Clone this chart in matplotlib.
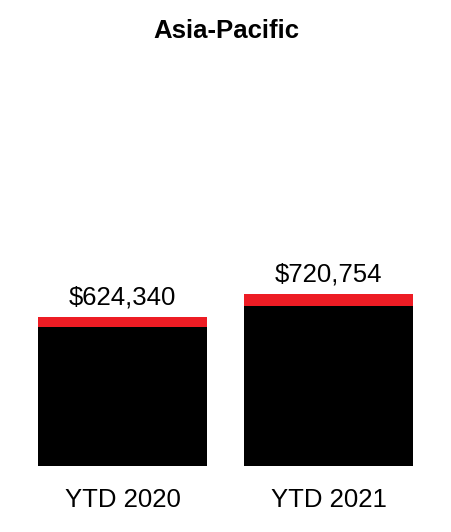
import matplotlib.pyplot as plt

plt.rcParams["font.family"] = ["Liberation Sans", "DejaVu Sans"]

categories = ["YTD 2020", "YTD 2021"]
totals = [624340, 720754]
red_part = [42000, 50400]
black_part = [t - r for t, r in zip(totals, red_part)]
labels = ["$624,340", "$720,754"]

fig = plt.figure(figsize=(4.52, 5.32), dpi=100)
ymax = 1.7e6
bottom = (532 - 466) / 532
height = ymax / 4200 / 532
ax = fig.add_axes([0, bottom, 1, height])

x = list(range(len(categories)))
ax.bar(x, black_part, width=0.82, color="black")
ax.bar(x, red_part, width=0.82, bottom=black_part, color="#ED1C24")

for xi, t, lab in zip(x, totals, labels):
    ax.annotate(lab, (xi, t), xytext=(0, 9), textcoords="offset points",
                ha="center", va="baseline", fontsize=18.5)

ax.set_xlim(-122.8 / 206, (452 - 122.8) / 206)
ax.set_ylim(0, ymax)
ax.set_xticks(x)
ax.set_xticklabels(categories, fontsize=18.5)
ax.tick_params(axis="x", length=0, pad=16)
ax.set_yticks([])
for s in ax.spines.values():
    s.set_visible(False)

fig.text(0.5, 1 - 31.5 / 532, "Asia-Pacific", ha="center", va="center",
         fontsize=18.5, fontweight="bold")

fig.savefig("out.png", dpi=100)
